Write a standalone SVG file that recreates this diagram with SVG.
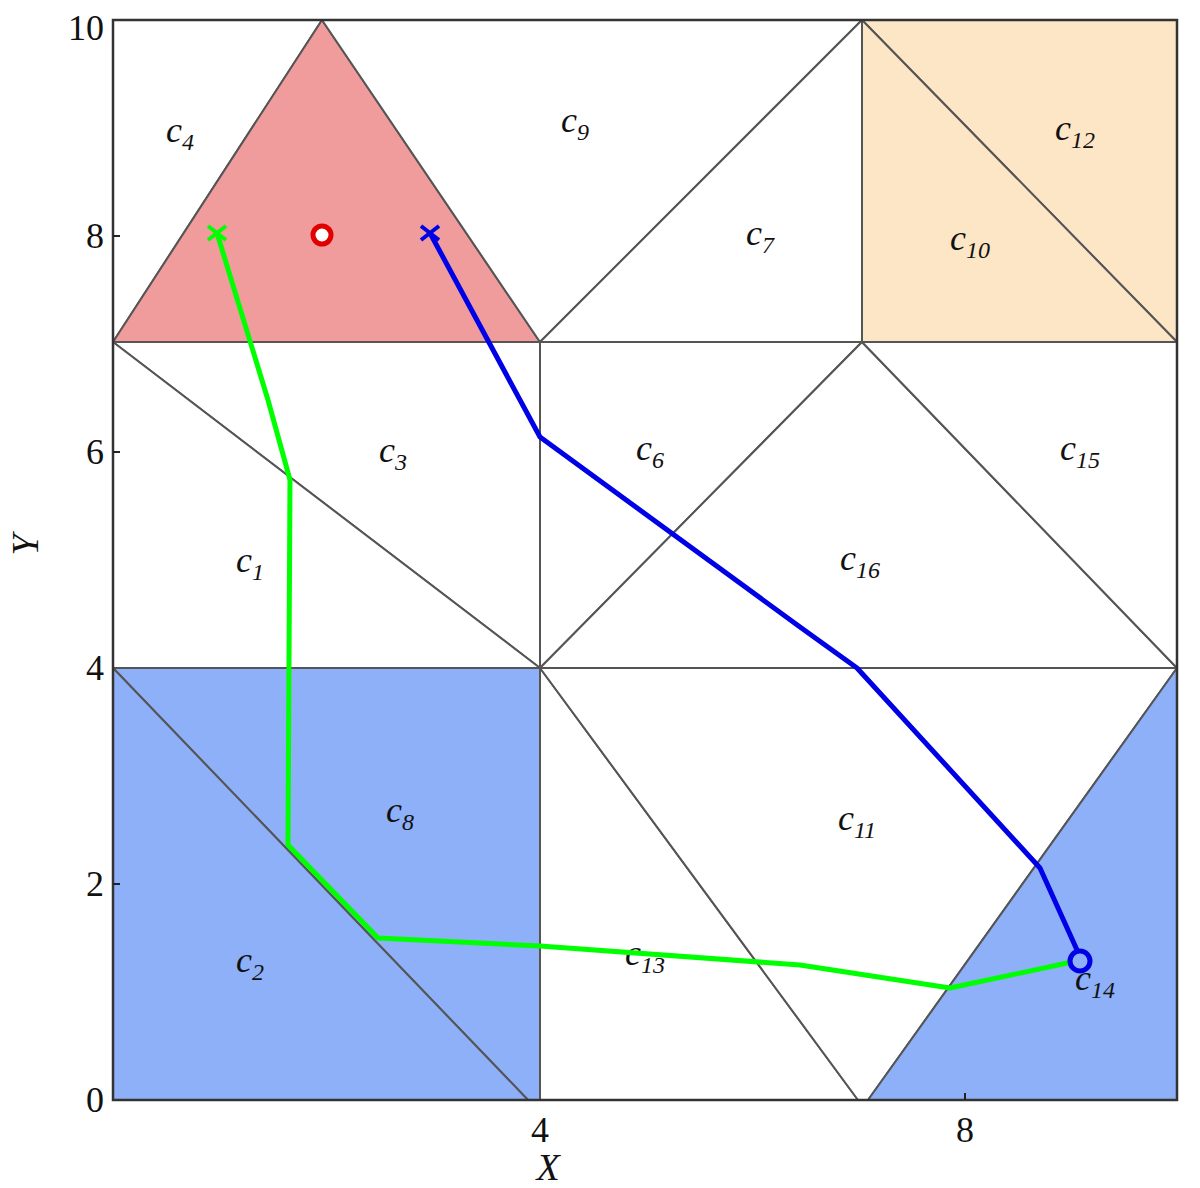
<svg xmlns="http://www.w3.org/2000/svg" width="1200" height="1188" viewBox="0 0 1200 1188">
<style>
.cell{stroke:#555;stroke-width:2;stroke-linejoin:round}
.lbl{font-family:"Liberation Serif",serif;font-style:italic;font-size:36px;fill:#111;text-anchor:middle}
.sub{font-size:24px}
.tick{font-family:"Liberation Serif",serif;font-size:36px;fill:#111;text-anchor:end}
.tickx{font-family:"Liberation Serif",serif;font-size:36px;fill:#111;text-anchor:middle}
.axis{font-family:"Liberation Serif",serif;font-style:italic;font-size:38px;fill:#111;text-anchor:middle}
</style>
<rect width="1200" height="1188" fill="#fff"/>
<g id="cells">
  <g id="c4"><polygon class="cell" points="113,20 322,20 113,342" fill="#fff"/><text class="lbl" x="180" y="142">c<tspan class="sub" dy="8">4</tspan></text></g>
  <g id="red"><polygon class="cell" points="113,342 322,20 540,342" fill="#F09C9C" stroke="#c07070"/></g>
  <g id="c9"><polygon class="cell" points="322,20 862,20 540,342" fill="#fff"/><text class="lbl" x="575" y="132">c<tspan class="sub" dy="8">9</tspan></text></g>
  <g id="c7"><polygon class="cell" points="540,342 862,20 862,342" fill="#fff"/><text class="lbl" x="760" y="245">c<tspan class="sub" dy="8">7</tspan></text></g>
  <g id="c12"><polygon class="cell" points="862,20 1177,20 1177,342" fill="#FDE6C6"/><text class="lbl" x="1075" y="140">c<tspan class="sub" dy="8">12</tspan></text></g>
  <g id="c10"><polygon class="cell" points="862,20 1177,342 862,342" fill="#FDE6C6"/><text class="lbl" x="970" y="250">c<tspan class="sub" dy="8">10</tspan></text></g>
  <g id="c3"><polygon class="cell" points="113,342 540,342 540,668" fill="#fff"/><text class="lbl" x="393" y="462">c<tspan class="sub" dy="8">3</tspan></text></g>
  <g id="c1"><polygon class="cell" points="113,342 540,668 113,668" fill="#fff"/><text class="lbl" x="250" y="572">c<tspan class="sub" dy="8">1</tspan></text></g>
  <g id="c6"><polygon class="cell" points="540,342 862,342 540,668" fill="#fff"/><text class="lbl" x="650" y="460">c<tspan class="sub" dy="8">6</tspan></text></g>
  <g id="c16"><polygon class="cell" points="540,668 862,342 1177,668" fill="#fff"/><text class="lbl" x="860" y="570">c<tspan class="sub" dy="8">16</tspan></text></g>
  <g id="c15"><polygon class="cell" points="862,342 1177,342 1177,668" fill="#fff"/><text class="lbl" x="1080" y="460">c<tspan class="sub" dy="8">15</tspan></text></g>
  <g id="c8"><polygon class="cell" points="113,668 540,668 540,1100 528,1100" fill="#8DB0F8"/><text class="lbl" x="400" y="822">c<tspan class="sub" dy="8">8</tspan></text></g>
  <g id="c2"><polygon class="cell" points="113,668 528,1100 113,1100" fill="#8DB0F8"/><text class="lbl" x="250" y="972">c<tspan class="sub" dy="8">2</tspan></text></g>
  <g id="c13"><polygon class="cell" points="540,668 858,1100 540,1100" fill="#fff"/><text class="lbl" x="645" y="965">c<tspan class="sub" dy="8">13</tspan></text></g>
  <g id="c11"><polygon class="cell" points="540,668 1177,668 868,1100 858,1100" fill="#fff"/><text class="lbl" x="857" y="830">c<tspan class="sub" dy="8">11</tspan></text></g>
  <g id="c14"><polygon class="cell" points="1177,668 1177,1100 868,1100" fill="#8DB0F8"/><text class="lbl" x="1095" y="990">c<tspan class="sub" dy="8">14</tspan></text></g>
</g>
<g id="frame">
  <rect x="113" y="20" width="1064" height="1080" fill="none" stroke="#333" stroke-width="2.5"/>
  <g stroke="#222" stroke-width="2">
    <line x1="113" y1="884" x2="120" y2="884"/><line x1="113" y1="452" x2="120" y2="452"/><line x1="113" y1="236" x2="120" y2="236"/>
    <line x1="965" y1="1100" x2="965" y2="1093"/>
  </g>
  <text class="tick" x="104" y="1112">0</text>
  <text class="tick" x="104" y="896">2</text>
  <text class="tick" x="104" y="680">4</text>
  <text class="tick" x="104" y="464">6</text>
  <text class="tick" x="104" y="248">8</text>
  <text class="tick" x="104" y="40">10</text>
  <text class="tickx" x="540" y="1142">4</text>
  <text class="tickx" x="965" y="1142">8</text>
  <text class="axis" x="548" y="1180">X</text>
  <text class="axis" transform="translate(38,545) rotate(-90)">Y</text>
</g>
<g id="connectors">
  <polyline points="217,233 268,400 290,480 288,845 378,938 540,946 800,965 950,988 1072,962" fill="none" stroke="#00FF00" stroke-width="5" stroke-linejoin="round"/>
  <polyline points="430,233 540,437 800,627 857,668 1040,868 1077,950" fill="none" stroke="#0000E6" stroke-width="5" stroke-linejoin="round"/>
  <g stroke="#00FF00" stroke-width="4"><line x1="208" y1="226" x2="226" y2="240"/><line x1="226" y1="226" x2="208" y2="240"/></g>
  <g stroke="#0000E6" stroke-width="4"><line x1="421" y1="226" x2="439" y2="240"/><line x1="439" y1="226" x2="421" y2="240"/></g>
  <circle cx="322" cy="235" r="9" fill="#fff" stroke="#e00000" stroke-width="5"/>
  <circle cx="1080" cy="961" r="10" fill="none" stroke="#0000E6" stroke-width="5"/>
</g>
</svg>
